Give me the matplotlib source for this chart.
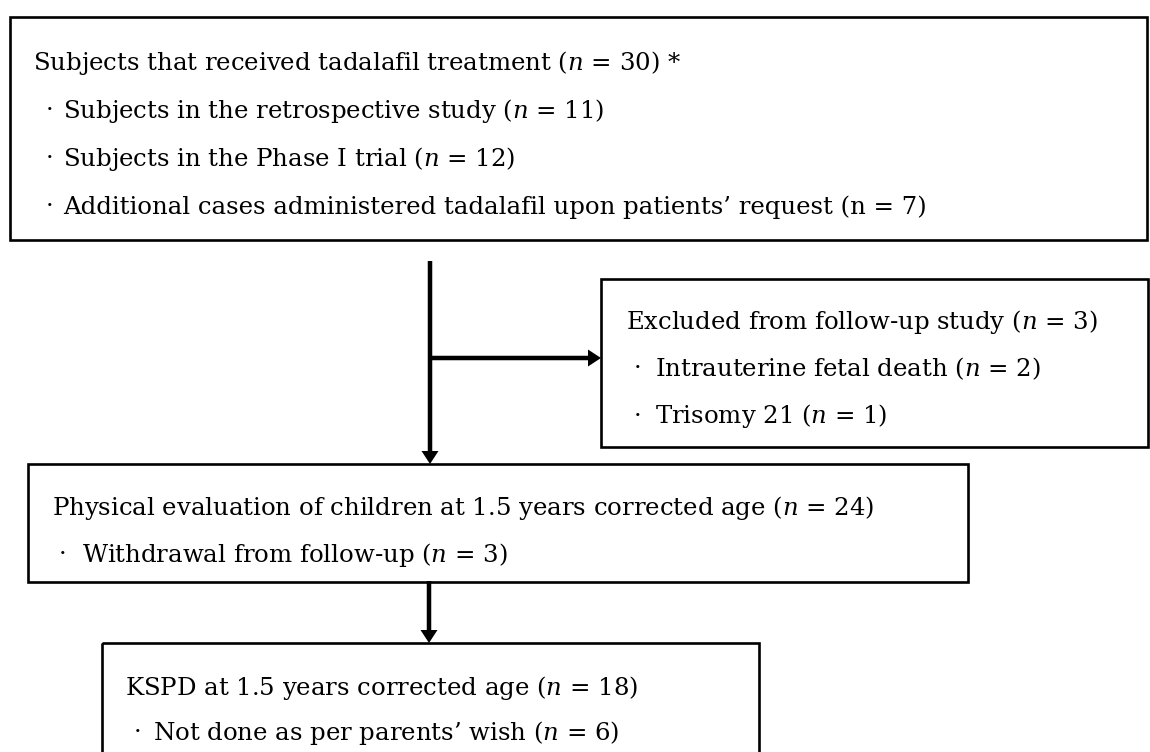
import matplotlib
matplotlib.use("Agg")
import matplotlib.pyplot as plt
from matplotlib.patches import Rectangle

plt.rcParams["font.family"] = ["DejaVu Serif"]
plt.rcParams["mathtext.fontset"] = "dejavuserif"

# ---- content ----
box1_title = "Subjects that received tadalafil treatment ($n$ = 30) *"
box1_items = [
    "Subjects in the retrospective study ($n$ = 11)",
    "Subjects in the Phase I trial ($n$ = 12)",
    "Additional cases administered tadalafil upon patients\u2019 request (n = 7)",
]
box2_title = "Excluded from follow-up study ($n$ = 3)"
box2_items = [
    "Intrauterine fetal death ($n$ = 2)",
    "Trisomy 21 ($n$ = 1)",
]
box3_title = "Physical evaluation of children at 1.5 years corrected age ($n$ = 24)"
box3_items = ["Withdrawal from follow-up ($n$ = 3)"]
box4_title = "KSPD at 1.5 years corrected age ($n$ = 18)"
box4_items = ["Not done as per parents\u2019 wish ($n$ = 6)"]

W, H = 1150, 752
fig = plt.figure(figsize=(W / 100, H / 100), dpi=100)
ax = fig.add_axes([0, 0, 1, 1])
ax.set_xlim(0, W)
ax.set_ylim(H, 0)
ax.axis("off")

FS = 17.6
BOX_LW = 1.9


def box(x0, y0, x1, y1):
    ax.add_patch(Rectangle((x0, y0), x1 - x0, y1 - y0, fill=False,
                           ec="black", lw=BOX_LW, clip_on=False))


def block(title, items, tx, ty, bx, ix, dy):
    ax.text(tx, ty, title, fontsize=FS, va="center", ha="left")
    for i, it in enumerate(items):
        y = ty + dy * (i + 1)
        ax.text(bx, y, "\u00b7", fontsize=FS, va="center", ha="center")
        ax.text(ix, y, it, fontsize=FS, va="center", ha="left")


def arrow(x0, y0, x1, y1):
    ax.arrow(x0, y0, x1 - x0, y1 - y0, width=4.5, head_width=17,
             head_length=13, length_includes_head=True, fc="black",
             ec="none")


# boxes
box(10, 17, 1147, 240)
box(601, 279, 1148, 447)
box(28, 464, 968, 582)
box(102, 643, 759, 790)

# texts
block(box1_title, box1_items, 33, 63, 50, 63, 48)
block(box2_title, box2_items, 626, 322, 638, 655, 47)
block(box3_title, box3_items, 52, 508, 63, 82, 47)
block(box4_title, box4_items, 125, 688, 138, 153, 45)

# connectors
arrow(430, 261, 430, 464)
arrow(430, 358, 601, 358)
arrow(429, 581, 429, 643)

fig.savefig("out.png", dpi=100, facecolor="white")
